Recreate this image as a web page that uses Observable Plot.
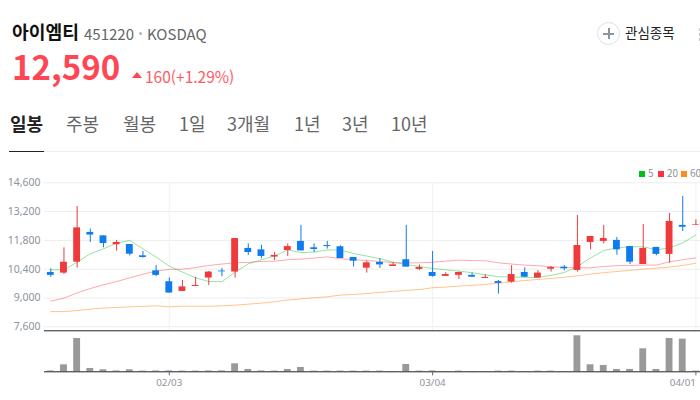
<!DOCTYPE html>
<html lang="ko"><head><meta charset="utf-8">
<script src="https://cdn.jsdelivr.net/npm/d3@7"></script>
<script src="https://cdn.jsdelivr.net/npm/@observablehq/plot@0.6"></script>
<style>
html,body{margin:0;padding:0;background:#fff;width:700px;height:400px;overflow:hidden;font-family:"Noto Sans CJK KR","Noto Sans",sans-serif}
#root{position:relative;width:700px;height:400px;overflow:hidden}
.t{position:absolute;white-space:nowrap;line-height:1}
svg{position:absolute;left:0;background:transparent!important}
</style></head><body><div id="root"></div>
<script>
const stockName = "아이엠티";
const stockCode = "451220";
const market = "KOSDAQ";
const lastPrice = "12,590";
const change = "160(+1.29%)";
const watchLabel = "관심종목";
const tabs = ["일봉","주봉","월봉","1일","3개월","1년","3년","10년"];
const priceTicks = [7600,9000,10400,11800,13200,14600];
const dateTickIndex = [9,29,49];
const dateTickLabels = ["02/03","03/04","04/01"];
const legendNames = ["5","20","60"];
const openP = [10240,10210,10740,12190,12020,11590,11600,11050,10320,9790,9320,9560,9970,10310,10260,11410,11340,10990,11310,11750,11440,11550,11490,10970,10450,10730,10530,10860,10390,10240,10050,10100,10100,9950,9800,9770,10240,9970,10400,10500,10340,11700,11750,11800,11500,10630,11460,11120,12530,12540];
const highP = [10420,11440,13450,12350,12020,11800,11600,11260,10580,9980,9850,10010,10290,10440,11890,11630,11570,11210,11630,12530,11630,11750,11540,10970,10790,10920,10730,12530,10610,11260,10230,10260,10210,10140,9850,10570,10470,10340,10530,10580,13010,11990,12530,11940,11500,12570,11460,13110,13930,12800];
const lowP = [10010,10140,10450,11700,11440,11280,11040,10940,10030,9240,9320,9560,9610,10030,9970,11070,10910,10820,11020,11290,11210,11380,10920,10500,10210,10440,10530,10500,10340,10010,10050,9900,10010,9950,9190,9720,10010,9970,10260,10320,10260,11340,11620,11080,10630,10630,11050,10690,12230,12530];
const closeP = [10100,10740,12410,12060,11650,11700,11130,10970,10100,9240,9540,9610,10260,10270,11890,11210,11020,11070,11500,11290,11360,11500,10920,10790,10710,10610,10610,10500,10480,10050,10140,10240,10010,10000,9710,10140,10010,10210,10480,10420,11550,11990,11890,11340,10740,11410,11120,12720,12440,12570];
const ma5 = [10370,10370,10740,11150,11390,11670,11800,11390,10990,10550,10260,9980,9800,9790,10260,10660,10860,11040,11340,11210,11230,11340,11330,11160,11040,10910,10740,10630,10530,10440,10370,10310,10230,10130,10030,10030,10000,10000,10100,10240,10530,10950,11310,11440,11490,11490,11340,11440,11680,12060];
const ma20 = [8850,8990,9250,9460,9640,9800,9980,10160,10310,10390,10400,10480,10580,10650,10710,10730,10780,10790,10860,10890,10940,11000,10910,10860,10820,10780,10710,10710,10710,10740,10790,10840,10820,10810,10710,10650,10600,10570,10520,10480,10470,10470,10530,10570,10580,10600,10600,10760,10860,10950];
const ma60 = [8340,8340,8390,8460,8510,8540,8570,8590,8620,8570,8600,8600,8600,8620,8650,8700,8750,8820,8900,8960,9010,9060,9140,9170,9220,9270,9320,9370,9410,9500,9530,9580,9610,9660,9720,9790,9850,9900,9950,10010,10080,10160,10230,10290,10340,10400,10450,10500,10580,10690];
const volumes = [4,21,100,10,6,4,6,3,4,4,3,3,4,4,24,7,4,3,7,13,3,3,3,3,3,3,1,22,3,4,1,3,1,1,3,3,1,3,3,1,108,21,19,7,7,69,7,100,98,3];

const C = {red:"#ef3a3c", blue:"#0e7bee", grid:"#ededed", axis:"#8d939c", vol:"#999999"};
const root = document.getElementById("root");
function t(txt, x, y, size, color, weight){
  const s=document.createElement("span"); s.className="t"; s.textContent=txt;
  s.style.cssText=`left:${x}px;top:${y}px;font-size:${size}px;color:${color};font-weight:${weight||400}`;
  root.appendChild(s); return s;
}
function box(x,y,w,h,bg,extra){
  const d=document.createElement("div");
  d.style.cssText=`position:absolute;left:${x}px;top:${y}px;width:${w}px;height:${h}px;background:${bg};${extra||""}`;
  root.appendChild(d); return d;
}
// Header
t(stockName,12,22,18.2,"#111",700);
t(stockCode,84,25.5,15,"#666");
box(139,32,3,3,"#b5b5b5","border-radius:50%");
t(market,147,25.5,15,"#666");
t(lastPrice,12,50,33,"#ff4655",700);
box(132,72,0,0,"transparent","border-left:5px solid transparent;border-right:5px solid transparent;border-bottom:6px solid #ff4655");
t(change,145,68.5,15.5,"#ff5a64");
// Watch button
box(597,22,21,21,"#fff","border:1px solid #dde0e5;border-radius:50%");
box(603,32.5,11,2,"#8a94a0");
box(607.5,28,2,11,"#8a94a0");
t(watchLabel,625,26,13.5,"#222");
[28,33,38].forEach(y=>box(699,y,3,3,"#c8c8c8"));
// Tabs
const tabX=[10,66,123,179,227,294,342,391];
tabs.forEach((n,i)=>t(n,tabX[i],113.5,18,i?"#666":"#222",i?400:700));
box(44,151,656,1,"#eeeeee");
box(9,151,35,1,"#222");
// Legend
const legX=[639,658,681], legC=["#00c01a","#ff3040","#ff8c1a"];
legendNames.forEach((n,i)=>{
  box(legX[i],170.5,6,6,legC[i]);
  t(n,legX[i]+9,168,10,"#8d939c");
});

const n = openP.length;
const rows = d3.range(n).map(i=>({i,o:openP[i],h:highP[i],l:lowP[i],c:closeP[i],m5:ma5[i],m20:ma20[i],m60:ma60[i],v:volumes[i]}));
const xScale = {type:"linear",domain:[0,n-1],range:[50.3,695.4]};
const top1 = 160, top2 = 325;
const priceChart = Plot.plot({
  width:700,height:172,marginLeft:44,marginRight:0,marginTop:22.3,marginBottom:1.7,
  style:{background:"transparent",overflow:"visible"},
  x:{...xScale,axis:null},
  y:{domain:[7600,14600],range:[326.3-top1,182.3-top1],axis:null},
  marks:[
    Plot.gridY(priceTicks,{stroke:C.grid,strokeOpacity:1}),
    Plot.ruleX(dateTickIndex,{stroke:"#f2f2f2"}),
    Plot.axisY({ticks:priceTicks,anchor:"left",tickSize:0,tickPadding:4,tickFormat:d3.format(","),fontSize:10.5,color:C.axis,label:null,fontFamily:"Noto Sans,sans-serif"}),
    Plot.line(rows,{x:"i",y:"m60",stroke:"#ff8c1a",strokeWidth:1,strokeOpacity:.5}),
    Plot.line(rows,{x:"i",y:"m20",stroke:"#ff3040",strokeWidth:1,strokeOpacity:.42}),
    Plot.line(rows,{x:"i",y:"m5",stroke:"#00c01a",strokeWidth:1,strokeOpacity:.42}),
    Plot.ruleX(rows,{x:"i",y1:"l",y2:"h",stroke:d=>d.c>=d.o?C.red:C.blue,strokeWidth:1}),
    Plot.rect(rows,{x1:d=>d.i-.26,x2:d=>d.i+.26,y1:"o",y2:"c",fill:d=>d.c>=d.o?C.red:C.blue})
  ]
});
priceChart.style.top=top1+"px";
root.appendChild(priceChart);

const axisStyle={tickSize:4,tickPadding:3,fontSize:9.8,color:C.axis,stroke:"#666",label:null,anchor:"bottom",fontFamily:"Noto Sans,sans-serif"};
const labelOf=i=>dateTickLabels[dateTickIndex.indexOf(i)];
const volumeChart = Plot.plot({
  width:700,height:75,marginLeft:44,marginRight:0,marginTop:5.3,marginBottom:28.7,
  style:{background:"transparent",overflow:"visible"},
  x:{...xScale,axis:null},
  y:{domain:[0,123],range:[46.3,5.3],axis:null},
  marks:[
    Plot.rect(rows,{x1:d=>d.i-.26,x2:d=>d.i+.26,y1:0,y2:"v",fill:d=>d.v<5?"#c8c8c8":C.vol}),
    Plot.ruleY([0,123],{stroke:"#222",strokeWidth:1}),
    Plot.axisX({...axisStyle,ticks:dateTickIndex.slice(0,2),tickFormat:labelOf}),
    Plot.axisX({...axisStyle,ticks:dateTickIndex.slice(2),tickFormat:labelOf,textAnchor:"end"})
  ]
});
volumeChart.style.top=top2+"px";
root.appendChild(volumeChart);
</script></body></html>
